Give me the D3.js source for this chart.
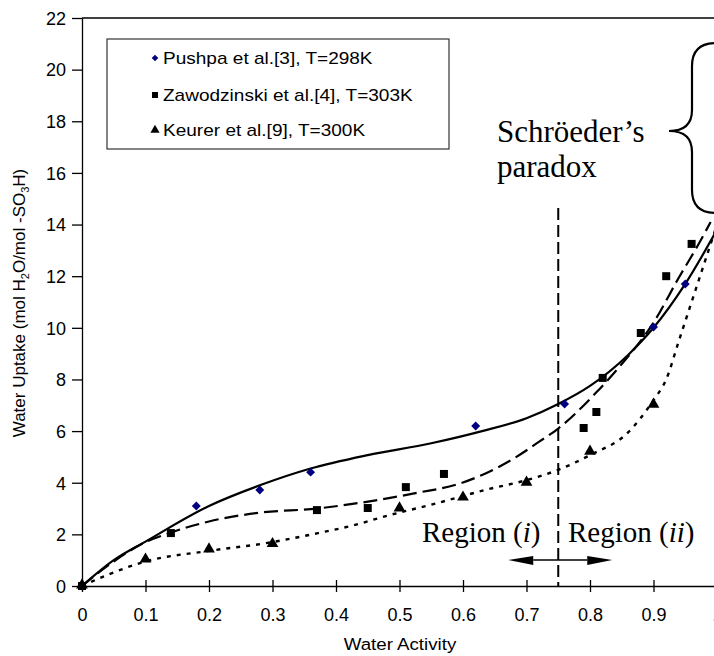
<!DOCTYPE html>
<html>
<head>
<meta charset="utf-8">
<script src="https://cdn.jsdelivr.net/npm/d3@7"></script>
<style>
    body { margin: 0; background: #fff; }
    svg text { font-family: "Liberation Sans", Arial, sans-serif; fill: #000; }
    svg text.serif { font-family: "Liberation Serif", "Times New Roman", serif; }
</style>
</head>
<body>
<svg id="chart" width="714" height="656"></svg>
<script>
// ------------------------------------------------------------
// values (water activity, water uptake)
// ------------------------------------------------------------
const xTicks = [0, 0.1, 0.2, 0.3, 0.4, 0.5, 0.6, 0.7, 0.8, 0.9, 1];
const yTicks = [0, 2, 4, 6, 8, 10, 12, 14, 16, 18, 20, 22];

const pushpaPts = [[0, 0], [0.18, 3.1], [0.28, 3.72], [0.36, 4.41], [0.62, 6.2],
                   [0.76, 7.05], [0.9, 10.03], [0.95, 11.7]];
const zawodPts  = [[0, 0], [0.14, 2.05], [0.37, 2.94], [0.45, 3.02], [0.51, 3.83],
                   [0.57, 4.34], [0.79, 6.12], [0.81, 6.74], [0.82, 8.06],
                   [0.88, 9.8], [0.92, 12.0], [0.96, 13.25]];
const keurerPts = [[0, 0], [0.1, 1.0], [0.2, 1.39], [0.3, 1.6], [0.5, 2.98],
                   [0.6, 3.4], [0.7, 3.98], [0.8, 5.18], [0.9, 7.0]];

// fitted curves
const solidFit  = [[0, 0], [0.05, 1.0], [0.1, 1.72], [0.2, 3.1], [0.28, 3.9], [0.36, 4.55],
                   [0.45, 5.07], [0.55, 5.53], [0.63, 6.0], [0.7, 6.5], [0.75, 7.05],
                   [0.8, 7.75], [0.86, 8.95], [0.9, 10.0], [0.95, 11.7], [1.0, 13.8]];
const dashedFit = [[0, 0], [0.05, 0.95], [0.1, 1.7], [0.14, 2.07], [0.2, 2.5], [0.28, 2.84],
                   [0.37, 3.0], [0.44, 3.23], [0.53, 3.62], [0.59, 3.93], [0.63, 4.3],
                   [0.68, 4.94], [0.72, 5.59], [0.75, 6.1], [0.81, 7.5], [0.85, 8.6],
                   [0.9, 10.2], [0.94, 11.95], [0.97, 13.2], [0.99, 14.1]];
const dottedFit = [[0, 0], [0.04, 0.43], [0.1, 0.95], [0.2, 1.36], [0.29, 1.66], [0.37, 2.04],
                   [0.44, 2.43], [0.47, 2.65], [0.55, 3.15], [0.64, 3.75], [0.7, 4.1],
                   [0.75, 4.5], [0.8, 5.07], [0.86, 5.95], [0.9, 7.2], [0.92, 8.0],
                   [0.94, 9.5], [0.96, 11.0], [0.98, 12.5], [1.0, 14.0]];

const legendLabels = ['Pushpa et al.[3], T=298K',
                      'Zawodzinski et al.[4], T=303K',
                      'Keurer et al.[9], T=300K'];
const paradoxAt = 0.75;

// ------------------------------------------------------------
const svg = d3.select('#chart');

const x = d3.scaleLinear().domain([0, 1]).range([82, 717]);
const y = d3.scaleLinear().domain([0, 22]).range([586, 18]);

// axes
let gx = svg.append('g')
    .attr('transform', 'translate(0,' + y(0) + ')')
    .call(d3.axisBottom(x).tickValues(xTicks).tickFormat(d => String(d))
        .tickSizeInner(6).tickSizeOuter(0));
gx.selectAll('.tick line').attr('y1', -6).attr('y2', 6);
gx.selectAll('.tick text').attr('y', 35).attr('dy', 0).style('font-size', '18px');

let gy = svg.append('g')
    .attr('transform', 'translate(' + x(0) + ',0)')
    .call(d3.axisLeft(y).tickValues(yTicks).tickSizeInner(10).tickSizeOuter(0));
gy.selectAll('.tick text').attr('x', -16).attr('dy', '0.35em').style('font-size', '18px');

svg.selectAll('.domain, .tick line').attr('stroke', '#000').attr('stroke-width', 1.3);

// top frame line
svg.append('line')
    .attr('x1', x(0)).attr('x2', x(1))
    .attr('y1', y(22)).attr('y2', y(22))
    .attr('stroke', '#000').attr('stroke-width', 1.3);

// axis titles
svg.append('text')
    .attr('transform', 'translate(400,650) scale(1.1,1)')
    .attr('text-anchor', 'middle')
    .style('font-size', '17px')
    .text('Water Activity');

let yt = svg.append('text')
    .attr('transform', 'translate(25,303) rotate(-90)')
    .attr('text-anchor', 'middle')
    .style('font-size', '17px');
yt.append('tspan').text('Water Uptake (mol H');
yt.append('tspan').attr('dy', 4).style('font-size', '11px').text('2');
yt.append('tspan').attr('dy', -4).text('O/mol -SO');
yt.append('tspan').attr('dy', 4).style('font-size', '11px').text('3');
yt.append('tspan').attr('dy', -4).text('H)');

// fitted curves
const line = d3.line()
    .x(d => x(d[0]))
    .y(d => y(d[1]))
    .curve(d3.curveMonotoneX);

svg.append('path').datum(solidFit)
    .attr('d', line).attr('fill', 'none')
    .attr('stroke', '#000').attr('stroke-width', 2.2);
svg.append('path').datum(dashedFit)
    .attr('d', line).attr('fill', 'none')
    .attr('stroke', '#000').attr('stroke-width', 2.2)
    .attr('stroke-dasharray', '14,6');
svg.append('path').datum(dottedFit)
    .attr('d', line).attr('fill', 'none')
    .attr('stroke', '#000').attr('stroke-width', 2.4)
    .attr('stroke-dasharray', '4,6');

// markers
const diamond  = d3.symbol().type(d3.symbolSquare).size(40);
const square   = d3.symbol().type(d3.symbolSquare).size(64);
const triangle = d3.symbol().type(d3.symbolTriangle).size(60);

svg.selectAll('path.pushpa')
    .data(pushpaPts).enter().append('path')
    .attr('class', 'pushpa')
    .attr('d', diamond)
    .attr('transform', d => 'translate(' + x(d[0]) + ',' + y(d[1]) + ') rotate(45)')
    .attr('fill', '#000080');

svg.selectAll('path.zawod')
    .data(zawodPts).enter().append('path')
    .attr('class', 'zawod')
    .attr('d', square)
    .attr('transform', d => 'translate(' + x(d[0]) + ',' + y(d[1]) + ')')
    .attr('fill', '#000');

svg.selectAll('path.keurer')
    .data(keurerPts).enter().append('path')
    .attr('class', 'keurer')
    .attr('d', triangle)
    .attr('transform', d => 'translate(' + x(d[0]) + ',' + (y(d[1]) - 1) + ')')
    .attr('fill', '#000');

// Schroeder's paradox marker line
svg.append('line')
    .attr('x1', x(paradoxAt)).attr('x2', x(paradoxAt))
    .attr('y1', 208).attr('y2', y(0))
    .attr('stroke', '#000').attr('stroke-width', 2)
    .attr('stroke-dasharray', '12,5');

// region arrow
let ax = x(paradoxAt);
svg.append('line')
    .attr('x1', ax - 25).attr('x2', ax + 29)
    .attr('y1', 560).attr('y2', 560)
    .attr('stroke', '#000').attr('stroke-width', 1.5);
svg.append('path')
    .attr('d', 'M' + (ax - 50) + ',560 L' + (ax - 25) + ',556 L' + (ax - 25) + ',565 Z')
    .attr('fill', '#000');
svg.append('path')
    .attr('d', 'M' + (ax + 54) + ',560 L' + (ax + 29) + ',556 L' + (ax + 29) + ',565 Z')
    .attr('fill', '#000');

let r1 = svg.append('text').attr('class', 'serif')
    .attr('x', 422).attr('y', 542).style('font-size', '29px');
r1.append('tspan').text('Region (');
r1.append('tspan').style('font-style', 'italic').text('i');
r1.append('tspan').text(')');

let r2 = svg.append('text').attr('class', 'serif')
    .attr('x', 568).attr('y', 542).style('font-size', '29px');
r2.append('tspan').text('Region (');
r2.append('tspan').style('font-style', 'italic').text('ii');
r2.append('tspan').text(')');

// annotation + brace
svg.append('text').attr('class', 'serif')
    .attr('x', 497).attr('y', 142).style('font-size', '31px')
    .text('Schröeder’s');
svg.append('text').attr('class', 'serif')
    .attr('x', 497).attr('y', 177).style('font-size', '31px')
    .text('paradox');

svg.append('path')
    .attr('d', 'M716,43 Q692,43 692,66 L692,110 Q692,131 669,131 ' +
               'Q692,131 692,152 L692,190 Q692,213 716,213')
    .attr('fill', 'none')
    .attr('stroke', '#000').attr('stroke-width', 2.2);

// legend
let lg = svg.append('g');
lg.append('rect')
    .attr('x', 107).attr('y', 39).attr('width', 342).attr('height', 110)
    .attr('fill', '#fff').attr('stroke', '#333').attr('stroke-width', 1.2);

const legendSyms = [
    { sym: d3.symbol().type(d3.symbolSquare).size(22), rot: 45, fill: '#000080' },
    { sym: d3.symbol().type(d3.symbolSquare).size(36), rot: 0, fill: '#000' },
    { sym: d3.symbol().type(d3.symbolTriangle).size(36), rot: 0, fill: '#000' },
];
const legendRows = [58, 95, 130];

legendLabels.forEach((lab, i) => {
    let s = legendSyms[i];
    lg.append('path')
        .attr('d', s.sym)
        .attr('transform', 'translate(155,' + legendRows[i] + ') rotate(' + s.rot + ')')
        .attr('fill', s.fill);
    lg.append('text')
        .attr('transform', 'translate(163,' + (legendRows[i] + 6) + ') scale(1.12,1)')
        .style('font-size', '17px')
        .text(lab);
});
</script>
</body>
</html>
